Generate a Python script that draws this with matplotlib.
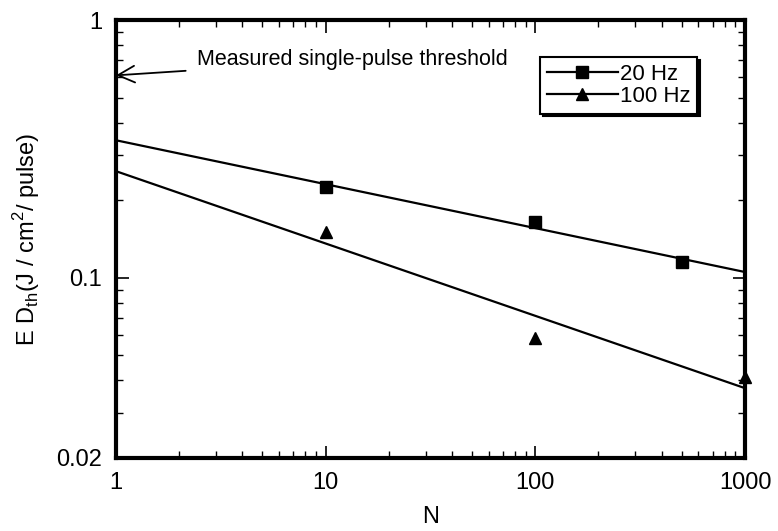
import numpy as np
import matplotlib.pyplot as plt
from matplotlib.ticker import FixedLocator, NullFormatter, LogLocator

plt.rcParams['font.family'] = ['Liberation Sans', 'DejaVu Sans']

# data
n_20hz = [10, 100, 500]
ed_20hz = [0.226, 0.164, 0.115]
n_100hz = [10, 100, 1000]
ed_100hz = [0.150, 0.0584, 0.0412]
threshold = 0.61

fig = plt.figure(figsize=(7.78, 5.31), dpi=100)
ax = fig.add_axes([0.149, 0.1375, 0.8086, 0.8248])
ax.set_xscale('log')
ax.set_yscale('log')

# power-law fits through the points
nfit = np.logspace(0, 3, 50)
for n, ed, mk, lab in [(n_20hz, ed_20hz, 's', '20 Hz'), (n_100hz, ed_100hz, '^', '100 Hz')]:
    p = np.polyfit(np.log10(n), np.log10(ed), 1)
    ax.plot(nfit, 10 ** np.polyval(p, np.log10(nfit)), color='black', lw=1.6)
    ax.plot(n, ed, mk, color='black', ms=9, clip_on=False, zorder=5)
    ax.plot([], [], '-', marker=mk, color='black', ms=9, lw=1.6, label=lab)

ax.set_xlim(1, 1000)
ax.set_ylim(0.02, 1)

ax.xaxis.set_major_locator(FixedLocator([1, 10, 100, 1000]))
ax.set_xticklabels(['1', '10', '100', '1000'])
ax.xaxis.set_minor_locator(LogLocator(base=10, subs=np.arange(2, 10)))
ax.xaxis.set_minor_formatter(NullFormatter())
ax.yaxis.set_major_locator(FixedLocator([0.02, 0.1, 1]))
ax.set_yticklabels(['0.02', '0.1', '1'])
ax.yaxis.set_minor_locator(LogLocator(base=10, subs=np.arange(2, 10)))
ax.yaxis.set_minor_formatter(NullFormatter())

ax.tick_params(which='both', direction='in', top=True, right=True, labelsize=17, pad=10)
ax.tick_params(which='major', length=9, width=1.2)
ax.tick_params(which='minor', length=5, width=1.0)
for s in ax.spines.values():
    s.set_linewidth(3)

ax.set_xlabel('N', fontsize=17, labelpad=9)
ax.set_ylabel('E D$_{\\mathregular{th}}$(J / cm$^{\\mathregular{2}}$/ pulse)', fontsize=17, labelpad=10)

ax.annotate('Measured single-pulse threshold', xy=(1, threshold), xytext=(2.43, 0.70),
            fontsize=15.5, va='center', ha='left',
            arrowprops=dict(arrowstyle='->', color='black', lw=1.3, mutation_scale=30,
                            shrinkA=6, shrinkB=0))

leg = ax.legend(loc='upper left', bbox_to_anchor=(0.674, 0.915), fontsize=16, frameon=True,
                fancybox=False, shadow={'color': 'black', 'alpha': 1}, edgecolor='black',
                handlelength=3.2, handletextpad=0.1, borderpad=0.3, labelspacing=0.05,
                borderaxespad=0)
leg.get_frame().set_linewidth(1.5)

fig.savefig('out.png', dpi=100)
